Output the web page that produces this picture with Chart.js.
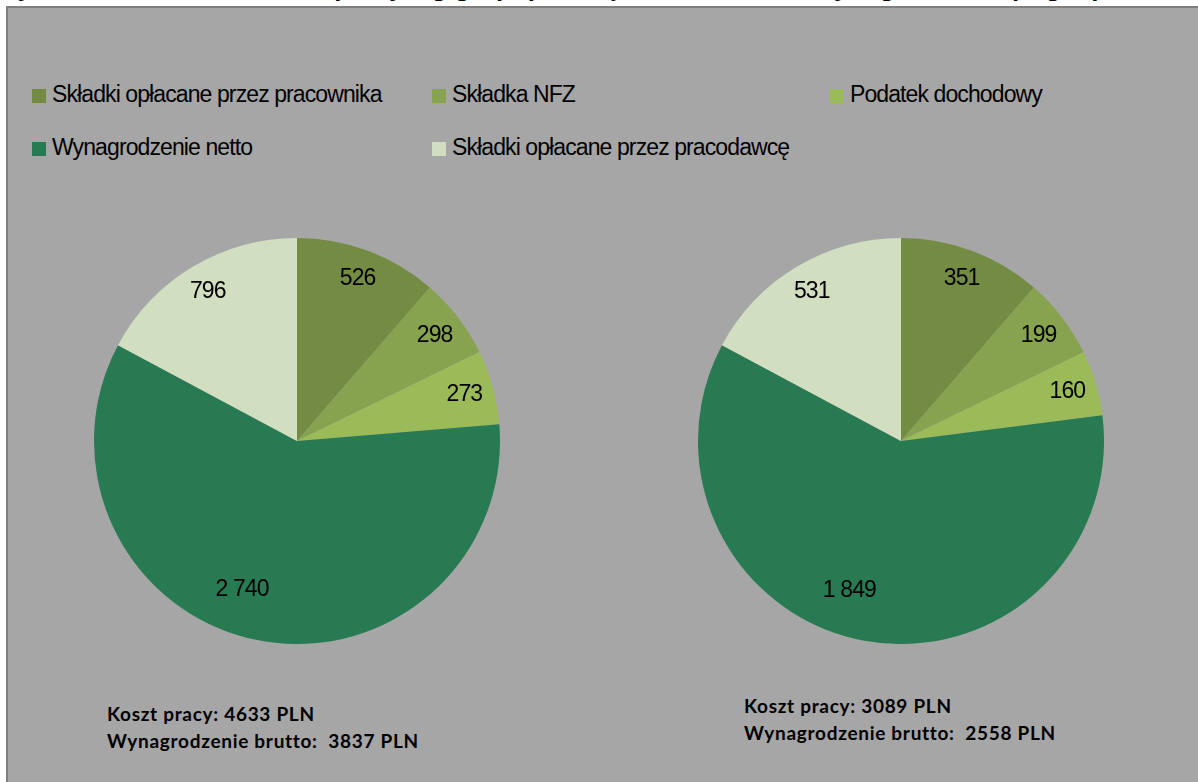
<!DOCTYPE html>
<html lang="pl">
<head>
<meta charset="utf-8">
<script src="https://cdn.jsdelivr.net/npm/chart.js@4/dist/chart.umd.min.js"></script>
<style>
  html, body { margin: 0; padding: 0; background: #fff; }
  body { width: 1198px; height: 782px; position: relative; overflow: hidden; font-family: "Liberation Sans", Arial, sans-serif; }
  #title { position: absolute; left: -4px; top: -26px; white-space: nowrap; font: italic bold 26px/26px "Liberation Sans", Arial, sans-serif; color: #000; }
  #panel { position: absolute; left: 6px; top: 6px; width: 1198px; height: 782px; background: #a6a6a6; border-left: 2px solid #7f7f7f; border-top: 2px solid #7f7f7f; }
  .legend-item { position: absolute; font-size: 23px; letter-spacing: -0.9px; color: #000; white-space: nowrap; line-height: 23px; }
  .legend-item i { display: inline-block; width: 14px; height: 14px; margin-right: 6px; vertical-align: -1px; }
  .pie { position: absolute; }
  .note { position: absolute; font: bold 19px/27px Lato, "Open Sans", sans-serif; letter-spacing: 0.7px; color: #000; white-space: nowrap; }
</style>
</head>
<body>
<div id="title">Wykres 2. Struktura kosztu pracy wg grup: przeciętne i minimalne wynagrodzenie (w gospodarce narodowej, 2013)</div>
<div id="panel"></div>
<div id="legend"></div>
<canvas id="pieLeft" class="pie" width="406" height="406" style="left:94px;top:238px"></canvas>
<canvas id="pieRight" class="pie" width="406" height="406" style="left:698px;top:238px"></canvas>
<div class="note" style="left:107px;top:700px">Koszt pracy: 4633 PLN<br>Wynagrodzenie brutto:&nbsp; 3837 PLN</div>
<div class="note" style="left:744px;top:692px">Koszt pracy: 3089 PLN<br>Wynagrodzenie brutto:&nbsp; 2558 PLN</div>
<script>
// kategorie (kolejnosc zgodnie z ruchem wskazowek zegara od godz. 12)
const categories = [
  'Składki opłacane przez pracownika',
  'Składka NFZ',
  'Podatek dochodowy',
  'Wynagrodzenie netto',
  'Składki opłacane przez pracodawcę'
];
const colors = ['#748b43', '#87a34f', '#9bbb59', '#287a52', '#d1dec0'];

// przecietne wynagrodzenie (lewy wykres)
const averageWage = [526, 298, 273, 2740, 796];
// minimalne wynagrodzenie (prawy wykres)
const minimumWage = [351, 199, 160, 1849, 531];

// legenda - pozycje w siatce jak w oryginale
const legendSlots = [[32, 87], [432, 87], [830, 87], [32, 140], [432, 140]];
const legend = document.getElementById('legend');
categories.forEach((name, i) => {
  const el = document.createElement('div');
  el.className = 'legend-item';
  el.style.left = legendSlots[i][0] + 'px';
  el.style.top = (legendSlots[i][1] - 4) + 'px';
  el.innerHTML = '<i style="background:' + colors[i] + '"></i>' + name;
  legend.appendChild(el);
});

function fmt(v) {
  return String(v).replace(/\B(?=(\d{3})+(?!\d))/g, ' ');
}

const sliceLabels = {
  id: 'sliceLabels',
  afterDatasetsDraw(chart) {
    const ctx = chart.ctx;
    const meta = chart.getDatasetMeta(0);
    const values = chart.data.datasets[0].data;
    ctx.save();
    ctx.font = '23px "Liberation Sans", Arial, sans-serif';
    ctx.letterSpacing = '-0.9px';
    ctx.fillStyle = '#000';
    ctx.textAlign = 'center';
    ctx.textBaseline = 'middle';
    meta.data.forEach((arc, i) => {
      const p = arc.getProps(['x', 'y', 'startAngle', 'endAngle', 'outerRadius'], true);
      let mid = (p.startAngle + p.endAngle) / 2;
      const big = p.endAngle - p.startAngle > Math.PI;
      // duzy wycinek: etykieta troche blizej srodka i przesunieta w lewo (jak w Excelu)
      if (big) mid += 0.15;
      const r = p.outerRadius * (big ? 0.78 : 0.855);
      ctx.fillText(fmt(values[i]), p.x + Math.cos(mid) * r, p.y + Math.sin(mid) * r);
    });
    ctx.restore();
  }
};

function makePie(id, values) {
  new Chart(document.getElementById(id), {
    type: 'pie',
    data: {
      labels: categories,
      datasets: [{ data: values, backgroundColor: colors, borderWidth: 0 }]
    },
    options: {
      responsive: false,
      animation: false,
      layout: { padding: 0 },
      plugins: { legend: { display: false }, tooltip: { enabled: false } }
    },
    plugins: [sliceLabels]
  });
}

makePie('pieLeft', averageWage);
makePie('pieRight', minimumWage);
</script>
</body>
</html>
